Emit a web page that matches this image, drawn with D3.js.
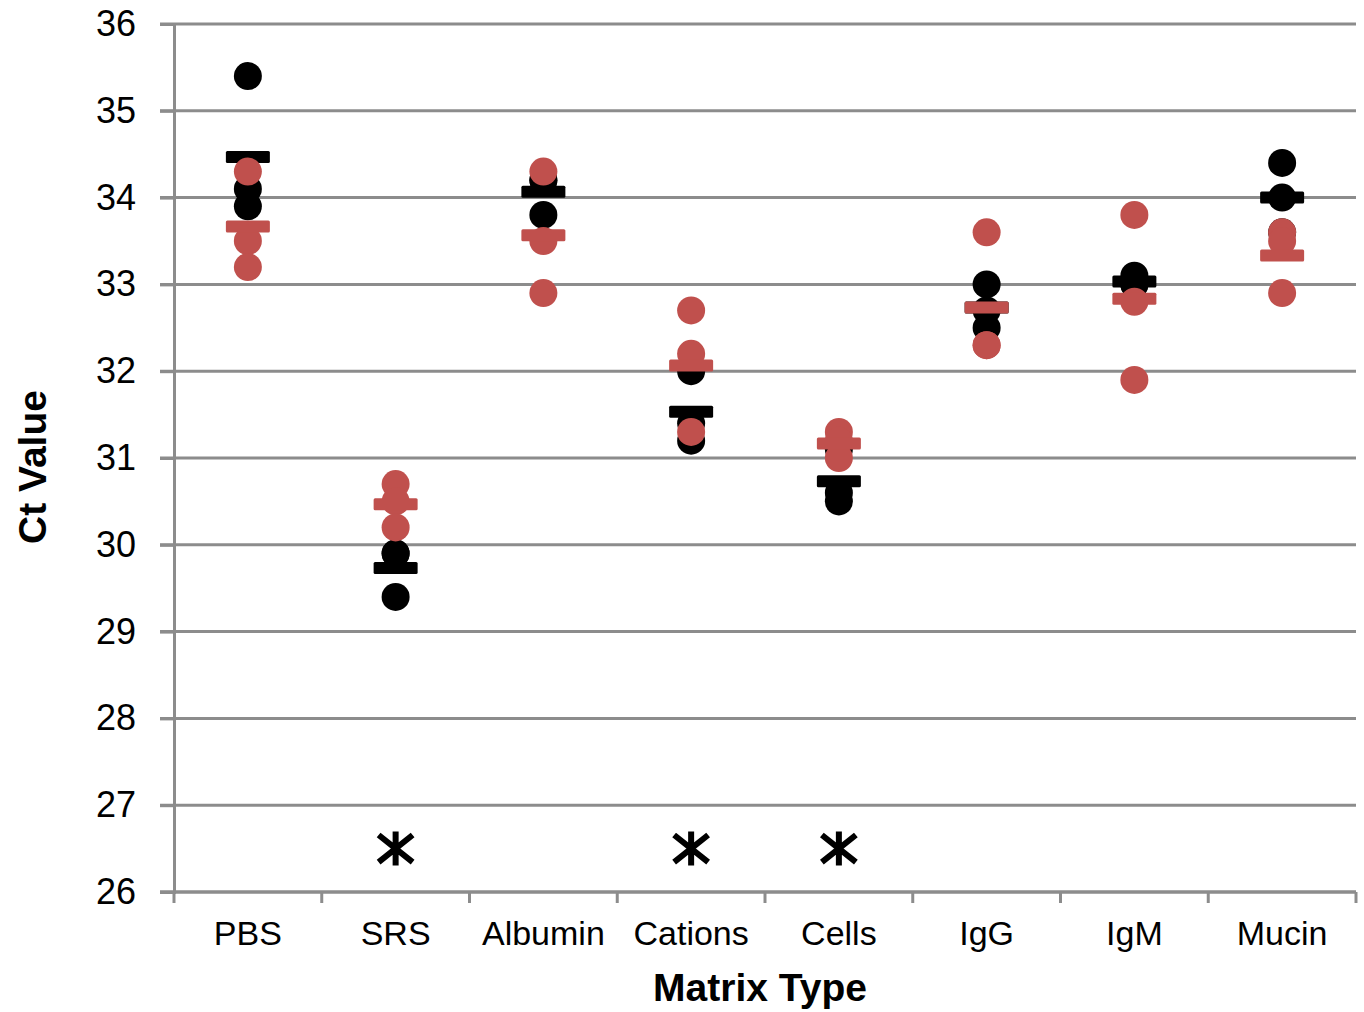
<!DOCTYPE html>
<html>
<head>
<meta charset="utf-8">
<script src="https://cdn.jsdelivr.net/npm/d3@7"></script>
<style>
  body { margin: 0; background: #fff; }
  text { font-family: "Liberation Sans", Arial, sans-serif; }
</style>
</head>
<body>
<div id="app"></div>
<script>
// values
const categories = ["PBS", "SRS", "Albumin", "Cations", "Cells", "IgG", "IgM", "Mucin"];
const blackValues = [
    [35.4, 34.1, 33.9],
    [29.9, 29.9, 29.4],
    [34.2, 34.2, 33.8],
    [32.0, 31.4, 31.2],
    [31.1, 30.6, 30.5],
    [33.0, 32.7, 32.5],
    [33.1, 33.0, 33.0],
    [34.4, 34.0, 33.6]
];
const redValues = [
    [34.3, 33.5, 33.2],
    [30.7, 30.5, 30.2],
    [34.3, 33.5, 32.9],
    [32.7, 32.2, 31.3],
    [31.3, 31.2, 31.0],
    [33.6, 32.3, 32.3],
    [33.8, 32.8, 31.9],
    [33.6, 33.5, 32.9]
];
const asteriskCats = ["SRS", "Cations", "Cells"];
const asteriskValue = 26.5;
const yTicks = [26, 27, 28, 29, 30, 31, 32, 33, 34, 35, 36];

const draw = () => {
    const width = 1364;
    const height = 1012;
    const gridColor = "#8c8c8c";
    const red = "#c0504d";

    const svg = d3.select('#app')
        .append('svg')
        .attr('width', width)
        .attr('height', height);

    const x = d3.scaleBand()
        .domain(categories)
        .range([174, 1356])
        .padding(0);

    const y = d3.scaleLinear()
        .domain([26, 36])
        .range([892, 24]);

    // gridlines
    svg.append('g')
        .selectAll('line')
        .data(yTicks)
        .enter()
        .append('line')
        .attr('x1', 160)
        .attr('x2', 1356)
        .attr('y1', d => y(d))
        .attr('y2', d => y(d))
        .attr('stroke', gridColor)
        .attr('stroke-width', 3);

    // y axis
    const yAxis = svg.append('g')
        .attr('transform', 'translate(174,0)')
        .call(d3.axisLeft(y).tickValues(yTicks).tickSize(14).tickPadding(24));
    yAxis.select('.domain').attr('stroke', gridColor).attr('stroke-width', 3);
    yAxis.selectAll('.tick line').attr('stroke', gridColor).attr('stroke-width', 3);
    yAxis.selectAll('.tick text')
        .attr('font-size', 36)
        .attr('fill', '#000')
        .attr('font-family', '"Liberation Sans", Arial, sans-serif');

    // x axis: ticks on the band boundaries
    const bounds = categories.map(c => x(c)).concat([x.range()[1]]);
    svg.append('line')
        .attr('x1', 160).attr('x2', 1356)
        .attr('y1', y(26)).attr('y2', y(26))
        .attr('stroke', gridColor).attr('stroke-width', 3);
    svg.append('g')
        .selectAll('line')
        .data(bounds)
        .enter()
        .append('line')
        .attr('x1', d => d).attr('x2', d => d)
        .attr('y1', y(26)).attr('y2', y(26) + 11)
        .attr('stroke', gridColor).attr('stroke-width', 3);

    svg.append('g')
        .selectAll('text')
        .data(categories)
        .enter()
        .append('text')
        .attr('x', d => x(d) + x.bandwidth() / 2)
        .attr('y', 945)
        .attr('text-anchor', 'middle')
        .attr('font-size', 34)
        .text(d => d);

    const cx = i => x(categories[i]) + x.bandwidth() / 2;

    const drawGroup = (values, color) => {
        const g = svg.append('g');
        values.forEach((vals, i) => {
            g.selectAll(null)
                .data(vals)
                .enter()
                .append('circle')
                .attr('cx', cx(i))
                .attr('cy', d => y(d))
                .attr('r', 14)
                .attr('fill', color);
            g.append('rect')
                .attr('x', cx(i) - 22)
                .attr('y', y(d3.mean(vals)) - 6)
                .attr('width', 44)
                .attr('height', 12)
                .attr('rx', 1.5)
                .attr('fill', color);
        });
    };
    drawGroup(blackValues, '#000');
    drawGroup(redValues, red);

    // asterisks
    const s = 17;
    svg.append('g')
        .selectAll('path')
        .data(asteriskCats)
        .enter()
        .append('path')
        .attr('transform', d => `translate(${x(d) + x.bandwidth() / 2},${y(asteriskValue)})`)
        .attr('d', `M0,${-s}V${s}M${-s},${-s * 0.8}L${s},${s * 0.8}M${s},${-s * 0.8}L${-s},${s * 0.8}`)
        .attr('stroke', '#000')
        .attr('stroke-width', 6)
        .attr('fill', 'none');

    // titles
    svg.append('text')
        .attr('x', 760)
        .attr('y', 1001)
        .attr('text-anchor', 'middle')
        .attr('font-size', 39)
        .attr('font-weight', 'bold')
        .text('Matrix Type');

    svg.append('text')
        .attr('transform', 'translate(46,467) rotate(-90)')
        .attr('text-anchor', 'middle')
        .attr('font-size', 39)
        .attr('font-weight', 'bold')
        .text('Ct Value');
};

draw();
</script>
</body>
</html>
